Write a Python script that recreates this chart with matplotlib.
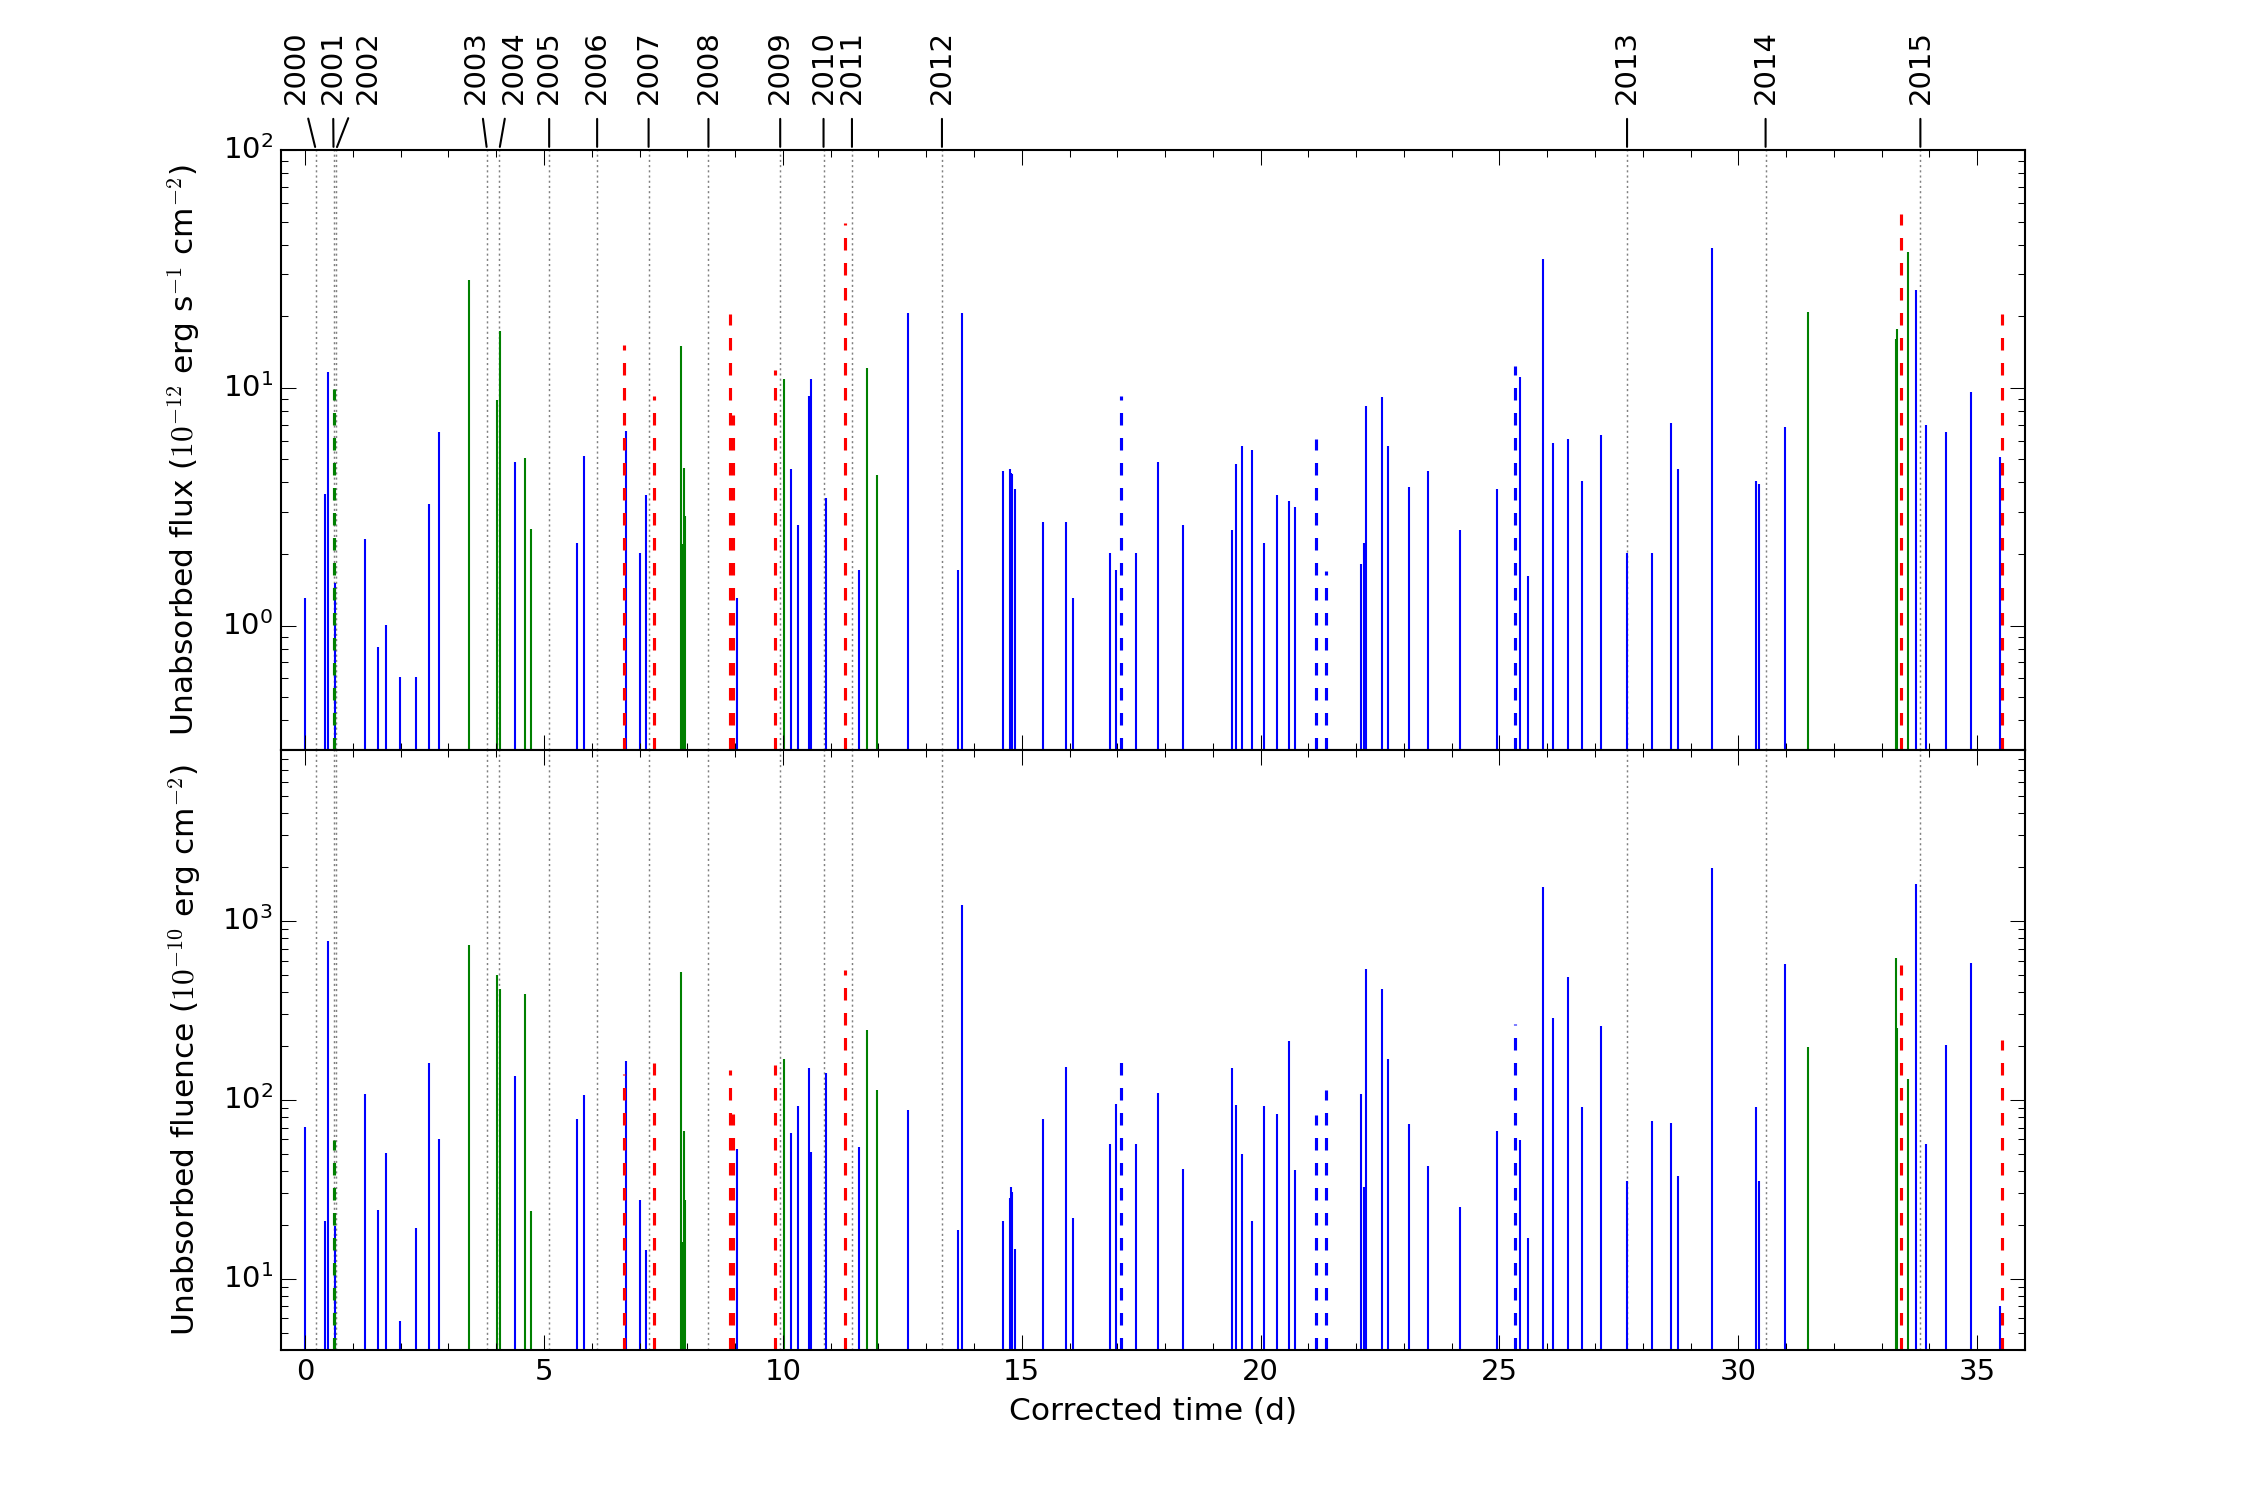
import matplotlib
matplotlib.use('Agg')
import matplotlib.pyplot as plt
from matplotlib.ticker import MultipleLocator

# stems: time (d), unabsorbed flux (1e-12 cgs), unabsorbed fluence (1e-10 erg/cm2)
blue_t = [0.00, 0.42, 0.47, 0.62, 1.245, 1.534, 1.703, 1.984, 2.313, 2.586, 2.811,
          4.394, 5.695, 5.847, 6.715, 7.012, 7.133, 9.044, 10.18, 10.32, 10.546,
          10.586, 10.908, 11.60, 12.62, 13.676, 13.756, 14.615, 14.75, 14.78, 14.80,
          14.85, 15.44, 15.93, 16.08, 16.84, 16.97, 17.39, 17.85, 18.37, 19.41,
          19.48, 19.62, 19.81, 20.08, 20.35, 20.59, 20.71, 22.11, 22.16, 22.21,
          22.55, 22.66, 23.10, 23.50, 24.18, 24.94, 25.42, 25.59, 25.91, 26.13,
          26.44, 26.73, 27.13, 27.66, 28.19, 28.60, 28.73, 29.44, 30.37, 30.44,
          30.98, 33.71, 33.93, 34.35, 34.87, 35.48]
blue_flux = [1.31, 3.57, 11.6, 1.51, 2.32, 0.81, 1.01, 0.61, 0.61, 3.24, 6.49,
             4.87, 2.22, 5.15, 6.56, 2.02, 3.53, 1.31, 4.56, 2.64, 9.23,
             10.9, 3.43, 1.72, 20.7, 1.72, 20.7, 4.46, 4.56, 4.4, 4.34,
             3.75, 2.73, 2.73, 1.31, 2.02, 1.72, 2.02, 4.87, 2.64, 2.53,
             4.77, 5.67, 5.46, 2.23, 3.54, 3.34, 3.15, 1.82, 2.23, 8.39,
             9.12, 5.67, 3.84, 4.46, 2.53, 3.74, 11.1, 1.61, 34.7, 5.87,
             6.08, 4.06, 6.36, 2.02, 2.02, 7.09, 4.56, 38.8, 4.06, 3.95,
             6.82, 25.9, 6.98, 6.49, 9.62, 5.13]
blue_flu = [70.8, 20.9, 776, 19.6, 108, 24.1, 50.6, 5.83, 19.2, 161, 60.2,
            136, 77.6, 107, 165, 27.4, 14.4, 53.2, 65.6, 92.2, 150,
            51.1, 141, 54.6, 87.7, 18.7, 1219, 21.0, 28.4, 32.5, 30.4,
            14.7, 78, 152, 21.8, 56.9, 95, 56.9, 109, 40.8, 151,
            94, 49.6, 21.0, 92.2, 83.3, 213, 40.5, 108, 32.5, 541,
            417, 168, 73, 42.8, 25.3, 67, 59.3, 17, 1549, 286,
            483, 91.7, 257, 35, 76, 73.8, 37.7, 1966, 90.8, 35,
            574, 1604, 56.9, 202, 580, 7.0]

green_t = [3.42, 4.024, 4.072, 4.602, 4.731, 7.863, 7.89, 7.92, 7.952, 10.016,
           11.76, 11.98, 31.45, 33.30, 33.33, 33.56]
green_flux = [28.4, 8.88, 17.3, 5.06, 2.56, 14.96, 2.2, 4.58, 2.89, 10.9,
              12.1, 4.3, 20.9, 16.0, 17.6, 37.1]
green_flu = [733, 496, 415, 388, 23.9, 519, 16, 67, 27.5, 170,
             246, 113, 198, 617, 252, 130]

red_t = [6.675, 7.301, 8.884, 8.948, 9.83, 11.31, 33.40, 35.52]
red_flux = [15.2, 9.23, 20.4, 7.68, 11.9, 49.2, 53.7, 20.4]
red_flu = [140, 160, 147, 82.8, 157, 532, 566, 216]

bdash_t = [17.08, 21.16, 21.36, 25.33]
bdash_flux = [9.23, 6.08, 1.70, 12.4]
bdash_flu = [186, 82.6, 114, 264]

gdash_t = [0.594]
gdash_flux = [9.9]
gdash_flu = [59.8]

years = ['2000', '2001', '2002', '2003', '2004', '2005', '2006', '2007',
         '2008', '2009', '2010', '2011', '2012', '2013', '2014', '2015']
year_pos = [0.225, 0.594, 0.643, 3.807, 4.064, 5.108, 6.112, 7.189,
            8.442, 9.944, 10.851, 11.446, 13.33, 27.67, 30.57, 33.81]
label_pos = [-0.20, 0.58, 1.32, 3.58, 4.37, 5.108, 6.112, 7.189,
             8.442, 9.944, 10.851, 11.446, 13.33, 27.67, 30.57, 33.81]

plt.style.use('classic')
plt.rcParams.update({'font.size': 14,
                     'xtick.major.size': 7, 'xtick.minor.size': 3.5,
                     'ytick.major.size': 7, 'ytick.minor.size': 3.5,
                     'lines.dashed_pattern': [6, 6]})

fig, (ax1, ax2) = plt.subplots(2, 1, sharex=True, figsize=(15, 10), dpi=150)
fig.patch.set_facecolor('white')
fig.subplots_adjust(left=0.125, right=0.9, top=0.9, bottom=0.1, hspace=0)

ylo = {ax1: 0.3, ax2: 4}
for ax, b, g, r, bd, gd in [(ax1, blue_flux, green_flux, red_flux, bdash_flux, gdash_flux),
                            (ax2, blue_flu, green_flu, red_flu, bdash_flu, gdash_flu)]:
    ax.set_yscale('log')
    lo = ylo[ax]
    for p in year_pos:
        ax.axvline(p, color='0.5', ls=(0, (1, 1.5)), lw=0.7, zorder=0)
    ax.vlines(blue_t, lo, b, colors='b', linewidth=1.0)
    ax.vlines(green_t, lo, g, colors='g', linewidth=1.0)
    ax.vlines(red_t, lo, r, colors='r', linestyles='dashed', linewidth=1.5)
    ax.vlines(bdash_t, lo, bd, colors='b', linestyles='dashed', linewidth=1.5)
    ax.vlines(gdash_t, lo, gd, colors='g', linestyles='dashed', linewidth=1.5)

ax1.set_ylim(0.3, 100)
ax2.set_ylim(4, 9000)
ax2.set_xlim(-0.5, 36)
ax2.xaxis.set_major_locator(MultipleLocator(5))
ax2.xaxis.set_minor_locator(MultipleLocator(1))

ax1.set_ylabel(r'Unabsorbed flux ($10^{-12}$ erg s$^{-1}$ cm$^{-2}$)', fontsize=15, labelpad=9)
ax2.set_ylabel(r'Unabsorbed fluence ($10^{-10}$ erg cm$^{-2}$)', fontsize=15, labelpad=9)
ax2.set_xlabel('Corrected time (d)', fontsize=15)

for yr, p, lx in zip(years, year_pos, label_pos):
    ax1.annotate(yr, xy=(p, 1.0), xycoords=('data', 'axes fraction'),
                 xytext=(lx, 1.077), textcoords=('data', 'axes fraction'),
                 rotation=90, ha='center', va='bottom', fontsize=14,
                 arrowprops=dict(arrowstyle='-', shrinkA=5, shrinkB=1.5,
                                 lw=1.0, color='k'))

fig.savefig('out.png', dpi=150, facecolor='white')
